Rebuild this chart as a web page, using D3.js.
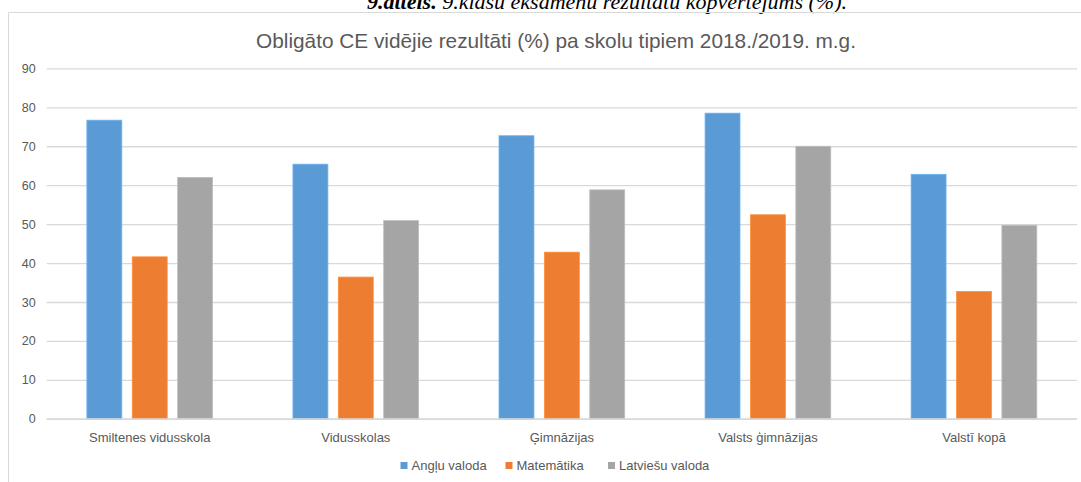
<!DOCTYPE html>
<html>
<head>
<meta charset="utf-8">
<script src="https://cdn.jsdelivr.net/npm/d3@7"></script>
<style>
  body { margin: 0; background: #fff; }
  svg { display: block; }
</style>
</head>
<body>
<div id="chart"></div>
<script>
// categories (school types) and series
var categories = ["Smiltenes vidusskola", "Vidusskolas", "Ģimnāzijas", "Valsts ģimnāzijas", "Valstī kopā"];
var seriesNames = ["Angļu valoda", "Matemātika", "Latviešu valoda"];
var angluValues = [76.7, 65.4, 72.7, 78.5, 62.8];
var matemValues = [41.6, 36.4, 42.8, 52.4, 32.7];
var latvValues = [62.0, 50.9, 58.8, 70.0, 49.7];
var yTicks = [0, 10, 20, 30, 40, 50, 60, 70, 80, 90];

var colors = ["#5B9BD5", "#ED7D31", "#A5A5A5"];
var W = 1081, H = 482;
var plot = {left: 46.7, right: 1077, top: 68.4, bottom: 418.8};

// build rows from the arrays
var rows = categories.map(function(c, i) {
  return {cat: c, vals: [angluValues[i], matemValues[i], latvValues[i]]};
});

var svg = d3.select("#chart").append("svg")
  .attr("width", W)
  .attr("height", H);

// caption above the chart (cut off at the top in the original)
var cap = svg.append("text")
  .attr("x", 607)
  .attr("y", 9)
  .attr("text-anchor", "middle")
  .style("font-family", "'Liberation Serif', 'Times New Roman', serif")
  .style("font-size", "22px")
  .style("font-style", "italic")
  .attr("fill", "#000");
cap.append("tspan").style("font-weight", "bold").text("9.attēls.");
cap.append("tspan").text(" 9.klašu eksāmenu rezultātu kopvērtējums (%).");

// chart frame (left + top visible)
svg.append("path")
  .attr("d", "M8.5," + (H + 2) + "V12.5H" + (W + 2))
  .attr("fill", "none")
  .attr("stroke", "#D9D9D9")
  .attr("stroke-width", 1);

// title
svg.append("text")
  .attr("x", 556)
  .attr("y", 48)
  .attr("text-anchor", "middle")
  .style("font-family", "'Liberation Sans', Arial, sans-serif")
  .style("font-size", "20.8px")
  .attr("fill", "#595959")
  .text("Obligāto CE vidējie rezultāti (%) pa skolu tipiem 2018./2019. m.g.");

var y = d3.scaleLinear()
  .domain([0, 90])
  .range([plot.bottom, plot.top]);

var x0 = d3.scaleBand()
  .domain(categories)
  .range([plot.left, plot.right])
  .paddingInner(0.39)
  .paddingOuter(0.195);

var x1 = d3.scaleBand()
  .domain(seriesNames)
  .range([0, x0.bandwidth()])
  .paddingInner(0.23)
  .paddingOuter(0);

// gridlines + y labels via axis
var yAxis = svg.append("g")
  .attr("transform", "translate(" + plot.left + ",0)")
  .call(d3.axisLeft(y)
    .tickValues(yTicks)
    .tickSize(-(plot.right - plot.left))
    .tickPadding(11));
yAxis.select(".domain").remove();
yAxis.selectAll(".tick line")
  .attr("stroke", "#D9D9D9")
  .attr("stroke-width", 1.3);
yAxis.selectAll(".tick text")
  .attr("fill", "#595959")
  .style("font-family", "'Liberation Sans', Arial, sans-serif")
  .style("font-size", "12.5px");

// bars
var groups = svg.append("g").selectAll("g")
  .data(rows)
  .enter().append("g")
  .attr("transform", function(d) { return "translate(" + x0(d.cat) + ",0)"; });

groups.selectAll("rect")
  .data(function(d) {
    return d.vals.map(function(v, j) { return {name: seriesNames[j], value: v, idx: j}; });
  })
  .enter().append("rect")
  .attr("x", function(d) { return x1(d.name); })
  .attr("y", function(d) { return y(d.value); })
  .attr("width", x1.bandwidth())
  .attr("height", function(d) { return y(0) - y(d.value); })
  .attr("fill", function(d) { return colors[d.idx]; })
  .attr("stroke", function(d) { return d3.color(colors[d.idx]).brighter(0.4); })
  .attr("stroke-width", 0.8);

// x axis (baseline + category labels)
var xAxis = svg.append("g")
  .attr("transform", "translate(0," + plot.bottom + ")")
  .call(d3.axisBottom(x0).tickSize(0).tickPadding(14));
xAxis.select(".domain")
  .attr("d", "M" + plot.left + ",0H" + plot.right)
  .attr("stroke", "#D9D9D9")
  .attr("stroke-width", 1.3);
xAxis.selectAll(".tick text")
  .attr("fill", "#595959")
  .style("font-family", "'Liberation Sans', Arial, sans-serif")
  .style("font-size", "13px");

// legend
var legendX = [400.5, 505.5, 608];
var legend = svg.append("g").selectAll("g")
  .data(seriesNames)
  .enter().append("g")
  .attr("transform", function(d, i) { return "translate(" + legendX[i] + ",462)"; });
legend.append("rect")
  .attr("width", 7)
  .attr("height", 7)
  .attr("fill", function(d, i) { return colors[i]; });
legend.append("text")
  .attr("x", 11)
  .attr("y", 7.5)
  .attr("fill", "#595959")
  .style("font-family", "'Liberation Sans', Arial, sans-serif")
  .style("font-size", "13px")
  .text(function(d) { return d; });
</script>
</body>
</html>
